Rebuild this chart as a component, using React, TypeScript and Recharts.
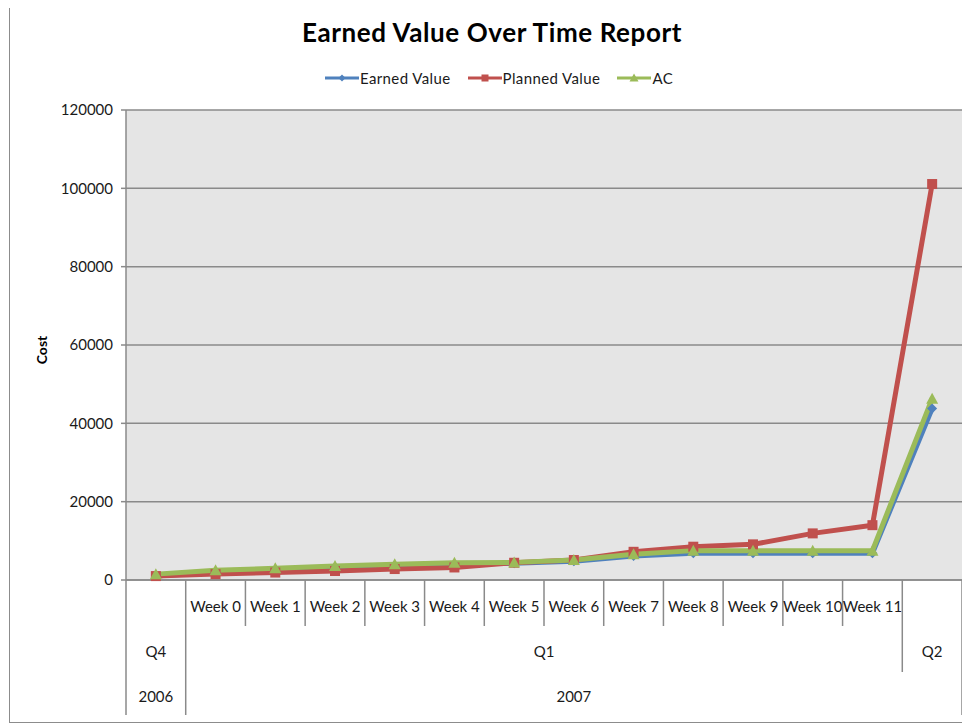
import React from 'react';
import { ComposedChart, Line, XAxis, YAxis, CartesianGrid, Legend } from 'recharts';

const weeks = ['', 'Week 0', 'Week 1', 'Week 2', 'Week 3', 'Week 4', 'Week 5', 'Week 6', 'Week 7', 'Week 8', 'Week 9', 'Week 10', 'Week 11', ''];
const quarters = ['Q4', 'Q1', 'Q1', 'Q1', 'Q1', 'Q1', 'Q1', 'Q1', 'Q1', 'Q1', 'Q1', 'Q1', 'Q1', 'Q2'];
const years = ['2006', '2007', '2007', '2007', '2007', '2007', '2007', '2007', '2007', '2007', '2007', '2007', '2007', '2007'];
const earnedValue = [1000, 2000, 2600, 3200, 3600, 4000, 4300, 4800, 6100, 6800, 6800, 6800, 6800, 43800];
const plannedValue = [1000, 1500, 1900, 2300, 2800, 3200, 4400, 5100, 7200, 8500, 9100, 11900, 14000, 101100];
const actualCost = [1500, 2500, 3000, 3600, 4000, 4400, 4500, 5100, 6600, 7500, 7500, 7500, 7500, 46300];
const yTicks = [0, 20000, 40000, 60000, 80000, 100000, 120000];

const data = weeks.map((w, i) => ({
  key: `${years[i]}-${quarters[i]}-${i}`,
  ev: earnedValue[i],
  pv: plannedValue[i],
  ac: actualCost[i],
}));

const CHART_W = 970;
const CHART_H = 725;
const MARGIN = { top: 90, right: 8, bottom: 10, left: 0 };
const YAXIS_W = 126;
const XAXIS_H = 135;
const N = weeks.length;
const PLOT_W = CHART_W - MARGIN.left - MARGIN.right - YAXIS_W;
const BW = PLOT_W / N;

const FONT = 'Lato, "Open Sans", sans-serif';
const AXIS_COLOR = '#8a8a8a';
const TEXT_COLOR = '#1a1a1a';

const BLUE = '#4f81bd';
const RED = '#c0504d';
const GREEN = '#9bbb59';

const series = [
  { key: 'ev', name: 'Earned Value', color: BLUE, shape: 'diamond' },
  { key: 'pv', name: 'Planned Value', color: RED, shape: 'square' },
  { key: 'ac', name: 'AC', color: GREEN, shape: 'triangle' },
];

function Marker({ cx, cy, shape, color, size = 10 }: any) {
  if (cx == null || cy == null) return null;
  const h = size / 2;
  if (shape === 'square') {
    return <rect x={cx - h} y={cy - h} width={size} height={size} fill={color} />;
  }
  if (shape === 'triangle') {
    return <polygon points={`${cx},${cy - h - 1} ${cx + h + 1},${cy + h} ${cx - h - 1},${cy + h}`} fill={color} />;
  }
  return <polygon points={`${cx},${cy - h} ${cx + h},${cy} ${cx},${cy + h} ${cx - h},${cy}`} fill={color} />;
}

function groupSpan(arr: string[], i: number, parent?: string[]) {
  const same = (a: number, b: number) => arr[a] === arr[b] && (!parent || parent[a] === parent[b]);
  const isStart = i === 0 || !same(i, i - 1);
  if (!isStart) return 0;
  let j = i;
  while (j + 1 < arr.length && same(j + 1, i)) j++;
  return j - i + 1;
}

function XTick(props: any) {
  const { x, y, index } = props;
  const i = index;
  const left = x - BW / 2;
  const right = x + BW / 2;
  let depth = 46;
  if (i === 0 || years[i] !== years[i - 1]) depth = XAXIS_H;
  else if (quarters[i] !== quarters[i - 1]) depth = 92;
  const qSpan = groupSpan(quarters, i, years);
  const ySpan = groupSpan(years, i);
  return (
    <g>
      <line x1={left} y1={y} x2={left} y2={y + depth} stroke={AXIS_COLOR} strokeWidth={1.5} />
      {i === N - 1 && <line x1={right} y1={y} x2={right} y2={y + XAXIS_H} stroke={AXIS_COLOR} strokeWidth={1.5} />}
      {weeks[i] && (
        <text x={x} y={y + 32} textAnchor="middle" fontSize={15} fontFamily={FONT} fill={TEXT_COLOR}>{weeks[i]}</text>
      )}
      {qSpan > 0 && (
        <text x={x + ((qSpan - 1) * BW) / 2} y={y + 77} textAnchor="middle" fontSize={15} fontFamily={FONT} fill={TEXT_COLOR}>{quarters[i]}</text>
      )}
      {ySpan > 0 && (
        <text x={x + ((ySpan - 1) * BW) / 2} y={y + 122} textAnchor="middle" fontSize={15} fontFamily={FONT} fill={TEXT_COLOR}>{years[i]}</text>
      )}
    </g>
  );
}

function LegendContent() {
  return (
    <div style={{ display: 'flex', justifyContent: 'center', alignItems: 'center', height: 20, fontFamily: FONT, fontSize: 15, letterSpacing: 0.4, color: TEXT_COLOR }}>
      {series.map((s, idx) => (
        <div key={s.key} style={{ display: 'flex', alignItems: 'center', marginLeft: idx === 0 ? 0 : 17 }}>
          <svg width={34} height={14} style={{ display: 'block' }}>
            <line x1={0} y1={7} x2={34} y2={7} stroke={s.color} strokeWidth={3} />
            <Marker cx={17} cy={7} shape={s.shape} color={s.color} size={7} />
          </svg>
          <span style={{ marginLeft: 1 }}>{s.name}</span>
        </div>
      ))}
    </div>
  );
}

function CostLabel(props: any) {
  const vb = props.viewBox || {};
  const cx = 41;
  const cy = (vb.y || 0) + (vb.height || 0) / 2 + 5;
  return (
    <text x={cx} y={cy} transform={`rotate(-90, ${cx}, ${cy})`} textAnchor="middle" dominantBaseline="central" fontSize={14} fontWeight="bold" fontFamily={FONT} fill="#000">Cost</text>
  );
}

export default function App() {
  return (
    <div style={{ position: 'relative', width: CHART_W, height: CHART_H, marginLeft: -8, marginTop: -8, background: '#fff', overflow: 'hidden' }}>
      <div style={{ position: 'absolute', left: 9, top: 3, width: CHART_W - 9, height: 720, borderLeft: '1px solid #8c8c8c', borderTop: '1px solid #8c8c8c', borderBottom: '1px solid #8c8c8c', boxSizing: 'border-box' }} />
      <div style={{ position: 'absolute', left: 9, top: 16, width: 966, textAlign: 'center', fontFamily: FONT, fontWeight: 'bold', fontSize: 26, letterSpacing: 0.6, color: '#000' }}>
        Earned Value Over Time Report
      </div>
      <div style={{ position: 'absolute', left: 0, top: 0 }}>
        <ComposedChart width={CHART_W} height={CHART_H} data={data} margin={MARGIN}>
          <CartesianGrid vertical={false} stroke={AXIS_COLOR} strokeWidth={1.5} fill="#e5e5e5" />
          <XAxis
            dataKey="key"
            type="category"
            scale="band"
            height={XAXIS_H}
            interval={0}
            tickLine={false}
            tickSize={0}
            tickMargin={0}
            stroke={AXIS_COLOR}
            strokeWidth={1.5}
            tick={<XTick />}
          />
          <YAxis
            width={YAXIS_W}
            domain={[0, 120000]}
            ticks={yTicks}
            interval={0}
            tickSize={5}
            tickMargin={8}
            stroke={AXIS_COLOR}
            strokeWidth={1.5}
            tick={{ fill: TEXT_COLOR, fontSize: 15, fontFamily: FONT }}
            label={<CostLabel />}
          />
          <Legend verticalAlign="top" align="center" content={<LegendContent />} wrapperStyle={{ top: 68, left: 28, width: 942 }} />
          {series.map((s) => (
            <Line
              key={s.key}
              dataKey={s.key}
              name={s.name}
              stroke={s.color}
              strokeWidth={5}
              isAnimationActive={false}
              dot={(p: any) => <Marker key={`${s.key}-${p.index}`} cx={p.cx} cy={p.cy} shape={s.shape} color={s.color} size={10} />}
              activeDot={false}
              legendType="none"
            />
          ))}
        </ComposedChart>
      </div>
    </div>
  );
}
